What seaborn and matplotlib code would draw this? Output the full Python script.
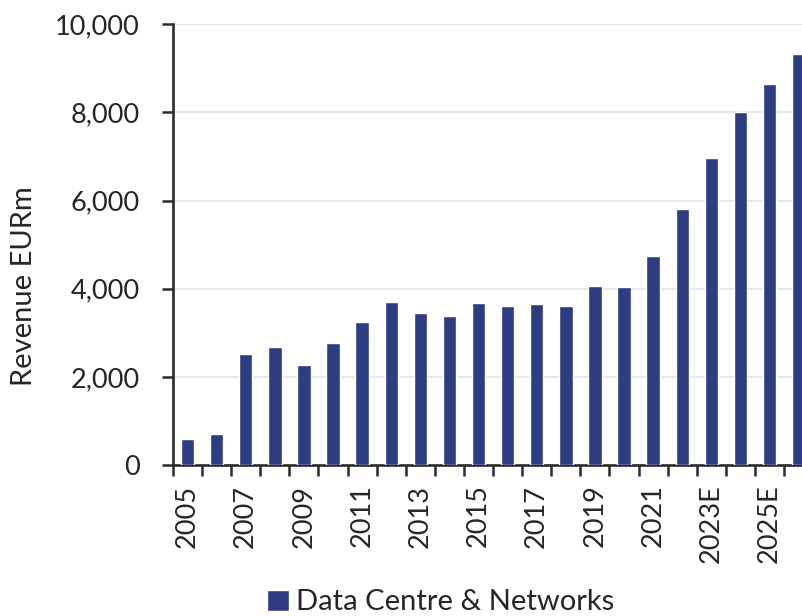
import matplotlib
matplotlib.use("Agg")
import matplotlib.pyplot as plt
import seaborn as sns
import pandas as pd
from matplotlib.ticker import FuncFormatter, FixedLocator, FixedFormatter, NullFormatter

years = ["2005", "2006", "2007", "2008", "2009", "2010", "2011", "2012",
         "2013", "2014", "2015", "2016", "2017", "2018", "2019", "2020",
         "2021", "2022", "2023E", "2024E", "2025E", "2026E"]
revenue = [585, 700, 2520, 2680, 2265, 2770, 3255, 3700,
           3460, 3380, 3680, 3610, 3650, 3600, 4070, 4035,
           4740, 5805, 6975, 8000, 8655, 9335]
series_name = "Data Centre & Networks"

df = pd.DataFrame({"year": years, "revenue": revenue})

sns.set_style("white")
plt.rcParams["font.family"] = ["Lato", "DejaVu Sans"]
plt.rcParams["xtick.bottom"] = True
plt.rcParams["ytick.left"] = True
text_col = "#262626"
line_col = "#2b2b2b"
fs = 19.5

fig = plt.figure(figsize=(8.03, 6.16), dpi=100)
ax = fig.add_axes([0.2154, 0.245, 0.79, 0.7155])

sns.barplot(data=df, x="year", y="revenue", color="#2E3C82", width=0.46,
            saturation=1, label=series_name, ax=ax, zorder=3)

ax.set_ylim(0, 10000)
ax.set_xlim(-0.5, 21.3)
ax.yaxis.set_major_locator(FixedLocator(range(0, 10001, 2000)))
ax.yaxis.set_major_formatter(FuncFormatter(lambda v, p: f"{int(v):,}"))
ax.grid(axis="y", color="#E8E8E8", linewidth=1.5, zorder=0)
ax.set_axisbelow(True)

# tick marks on category boundaries, labels on every other year (no mark)
ax.xaxis.set_major_locator(FixedLocator([i - 0.5 for i in range(len(years) + 1)]))
ax.xaxis.set_major_formatter(NullFormatter())
ax.xaxis.set_minor_locator(FixedLocator(range(0, len(years), 2)))
ax.xaxis.set_minor_formatter(FixedFormatter(years[::2]))
ax.tick_params(axis="x", which="major", bottom=True, length=8, width=1.8,
               color=line_col, direction="out")
ax.tick_params(axis="x", which="minor", bottom=True, length=0, pad=14,
               labelsize=fs, labelcolor=text_col, labelrotation=90)
ax.tick_params(axis="y", length=8, width=1.8, color=line_col, pad=16, labelsize=fs,
               labelcolor=text_col, left=True)

for s in ["top", "right"]:
    ax.spines[s].set_visible(False)
for s in ["left", "bottom"]:
    ax.spines[s].set_color(line_col)
    ax.spines[s].set_linewidth(1.9)

ax.set_xlabel("")
ax.set_ylabel("Revenue EURm", fontsize=21, color=text_col)
ax.yaxis.set_label_coords(-0.214, 0.405)

ax.legend(loc="center", bbox_to_anchor=(0.549, 0.022), bbox_transform=fig.transFigure,
          frameon=False, fontsize=21, handlelength=0.75, handleheight=0.75,
          handletextpad=0.25, labelcolor=text_col)

fig.savefig("out.png", dpi=100)
